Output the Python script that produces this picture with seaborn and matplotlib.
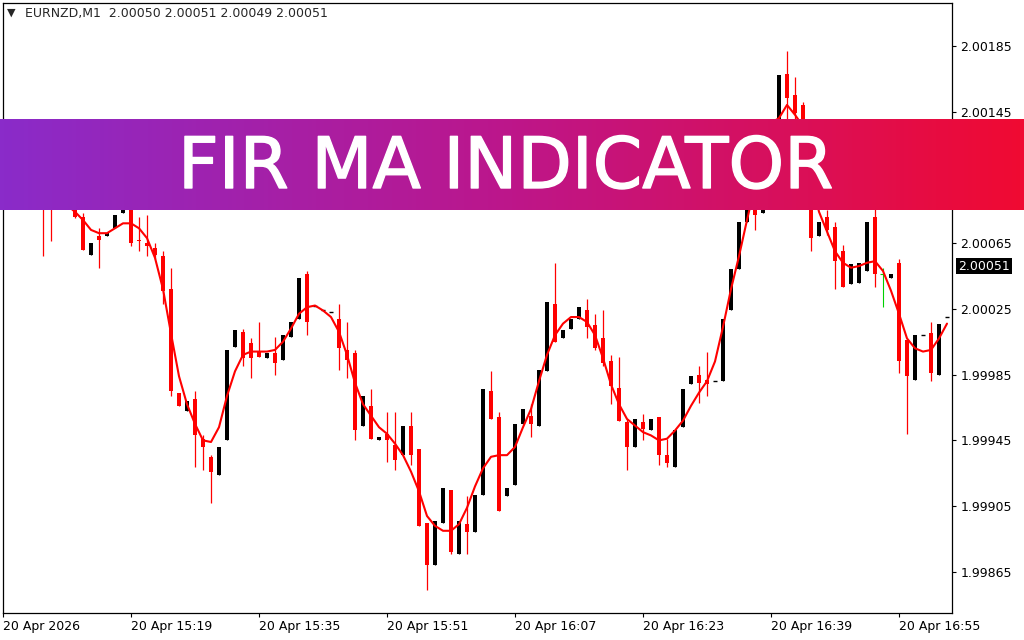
import numpy as np
import pandas as pd
import matplotlib
matplotlib.use("Agg")
import matplotlib.pyplot as plt
import matplotlib.patheffects as pe
import seaborn as sns
from matplotlib.colors import LinearSegmentedColormap

# ── EURNZD M1 bars ───────────────────────────────────────────────────────
opens = [2.00110, 2.00114, 2.00108, 2.00103, 2.00110, 2.00100, 2.00098, 2.00090, 2.00098, 2.00091,
         2.00081, 2.00058, 2.00069, 2.00069, 2.00074, 2.00083, 2.00093, 2.00067, 2.00065, 2.00062,
         2.00057, 2.00037, 1.99974, 1.99963, 1.99970, 1.99946, 1.99935, 1.99924, 1.99945, 2.00002,
         2.00011, 2.00004, 1.99999, 1.99995, 1.99998, 1.99994, 2.00008, 2.00019, 2.00046, 2.00027,
         2.00024, 2.00023, 2.00019, 2.00000, 1.99998, 1.99954, 1.99966, 1.99945, 1.99949, 1.99942,
         1.99936, 1.99954, 1.99940, 1.99895, 1.99869, 1.99895, 1.99915, 1.99876, 1.99894, 1.99889,
         1.99912, 1.99975, 1.99959, 1.99911, 1.99918, 1.99955, 1.99960, 1.99954, 1.99987, 2.00028,
         2.00007, 2.00013, 2.00019, 2.00024, 2.00015, 2.00007, 1.99993, 1.99977, 1.99956, 1.99941,
         1.99956, 1.99951, 1.99959, 1.99936, 1.99929, 1.99953, 1.99979, 1.99985, 1.99982, 1.99981,
         1.99981, 2.00024, 2.00049, 2.00078, 2.00094, 2.00083, 2.00105, 2.00125, 2.00168, 2.00155,
         2.00149, 2.00100, 2.00069, 2.00081, 2.00075, 2.00060, 2.00040, 2.00041, 2.00048, 2.00081,
         2.00046, 2.00044, 2.00053, 2.00006, 1.99982, 2.00009, 2.00010, 1.99985, 2.00020]
highs = [2.00118, 2.00120, 2.00113, 2.00112, 2.00116, 2.00106, 2.00102, 2.00098, 2.00100, 2.00093,
         2.00083, 2.00065, 2.00074, 2.00071, 2.00082, 2.00093, 2.00095, 2.00081, 2.00082, 2.00065,
         2.00060, 2.00050, 1.99974, 1.99969, 1.99975, 1.99948, 1.99936, 1.99941, 2.00000, 2.00012,
         2.00013, 2.00007, 2.00017, 1.99998, 2.00008, 2.00009, 2.00017, 2.00044, 2.00048, 2.00027,
         2.00024, 2.00023, 2.00028, 2.00017, 2.00000, 1.99972, 1.99976, 1.99947, 1.99962, 1.99962,
         1.99954, 1.99962, 1.99940, 1.99895, 1.99896, 1.99916, 1.99915, 1.99896, 1.99911, 1.99912,
         1.99976, 1.99987, 1.99962, 1.99916, 1.99955, 1.99964, 1.99967, 1.99988, 2.00029, 2.00053,
         2.00012, 2.00019, 2.00026, 2.00031, 2.00022, 2.00024, 1.99997, 1.99996, 1.99958, 1.99958,
         1.99961, 1.99958, 1.99959, 1.99946, 1.99951, 1.99976, 1.99984, 1.99990, 1.99999, 1.99981,
         2.00019, 2.00049, 2.00078, 2.00096, 2.00098, 2.00105, 2.00130, 2.00167, 2.00182, 2.00166,
         2.00151, 2.00105, 2.00078, 2.00085, 2.00078, 2.00064, 2.00052, 2.00053, 2.00078, 2.00090,
         2.00050, 2.00046, 2.00055, 2.00006, 2.00009, 2.00009, 2.00017, 2.00016, 2.00020]
lows = [2.00104, 2.00106, 2.00100, 2.00098, 2.00096, 2.00057, 2.00066, 2.00090, 2.00088, 2.00080,
        2.00061, 2.00058, 2.00050, 2.00069, 2.00074, 2.00083, 2.00063, 2.00060, 2.00057, 2.00055,
        2.00028, 1.99972, 1.99966, 1.99963, 1.99929, 1.99927, 1.99907, 1.99924, 1.99945, 2.00002,
        1.99990, 1.99983, 1.99996, 1.99995, 1.99985, 1.99994, 2.00008, 2.00019, 2.00009, 2.00027,
        2.00024, 2.00023, 1.99988, 1.99983, 1.99945, 1.99954, 1.99946, 1.99945, 1.99932, 1.99927,
        1.99936, 1.99930, 1.99893, 1.99854, 1.99869, 1.99895, 1.99876, 1.99876, 1.99876, 1.99889,
        1.99912, 1.99958, 1.99902, 1.99911, 1.99918, 1.99955, 1.99947, 1.99954, 1.99987, 2.00005,
        2.00007, 2.00013, 2.00019, 2.00007, 2.00000, 1.99990, 1.99967, 1.99957, 1.99927, 1.99941,
        1.99945, 1.99951, 1.99930, 1.99929, 1.99929, 1.99953, 1.99979, 1.99968, 1.99972, 1.99981,
        1.99981, 2.00024, 2.00049, 2.00078, 2.00073, 2.00083, 2.00105, 2.00125, 2.00135, 2.00130,
        2.00110, 2.00060, 2.00069, 2.00070, 2.00037, 2.00038, 2.00040, 2.00041, 2.00048, 2.00038,
        2.00026, 2.00044, 1.99986, 1.99949, 1.99982, 2.00009, 1.99981, 1.99985, 2.00020]
closes = [2.00114, 2.00108, 2.00103, 2.00110, 2.00100, 2.00094, 2.00090, 2.00098, 2.00091, 2.00081,
          2.00061, 2.00065, 2.00067, 2.00071, 2.00082, 2.00093, 2.00065, 2.00066, 2.00063, 2.00058,
          2.00036, 1.99975, 1.99966, 1.99969, 1.99948, 1.99941, 1.99926, 1.99941, 2.00000, 2.00012,
          1.99995, 1.99995, 1.99996, 1.99998, 1.99992, 2.00009, 2.00017, 2.00044, 2.00017, 2.00027,
          2.00024, 2.00023, 2.00001, 1.99994, 1.99951, 1.99972, 1.99946, 1.99947, 1.99945, 1.99933,
          1.99954, 1.99936, 1.99893, 1.99869, 1.99896, 1.99916, 1.99877, 1.99896, 1.99889, 1.99912,
          1.99976, 1.99958, 1.99902, 1.99916, 1.99955, 1.99964, 1.99955, 1.99988, 2.00029, 2.00005,
          2.00012, 2.00019, 2.00026, 2.00014, 2.00001, 1.99992, 1.99978, 1.99957, 1.99941, 1.99958,
          1.99952, 1.99958, 1.99936, 1.99931, 1.99951, 1.99976, 1.99984, 1.99980, 1.99979, 1.99981,
          2.00019, 2.00049, 2.00078, 2.00096, 2.00082, 2.00105, 2.00130, 2.00167, 2.00153, 2.00144,
          2.00115, 2.00068, 2.00078, 2.00073, 2.00054, 2.00038, 2.00052, 2.00053, 2.00078, 2.00046,
          2.00046, 2.00046, 1.99993, 1.99984, 2.00009, 2.00009, 1.99986, 2.00016, 2.00020]

# FIR MA line (red), one value per bar
fir_ma = [2.00106, 2.00105, 2.00104, 2.00102, 2.00100, 2.00098, 2.00095, 2.00092, 2.00088, 2.00084,
          2.00079, 2.00073, 2.00071, 2.00071, 2.00074, 2.00077, 2.00077, 2.00074, 2.00068, 2.00056,
          2.00037, 2.00010, 1.99984, 1.99967, 1.99955, 1.99945, 1.99944, 1.99953, 1.99972, 1.99987,
          1.99997, 1.99999, 1.99999, 1.99999, 2.00000, 2.00005, 2.00013, 2.00022, 2.00026, 2.00027,
          2.00024, 2.00020, 2.00011, 1.99997, 1.99980, 1.99967, 1.99960, 1.99953, 1.99949, 1.99943,
          1.99936, 1.99926, 1.99914, 1.99899, 1.99893, 1.99890, 1.99890, 1.99894, 1.99904, 1.99917,
          1.99928, 1.99935, 1.99936, 1.99936, 1.99941, 1.99953, 1.99964, 1.99981, 1.99997, 2.00009,
          2.00016, 2.00020, 2.00020, 2.00017, 2.00009, 1.99995, 1.99979, 1.99967, 1.99958, 1.99954,
          1.99950, 1.99948, 1.99945, 1.99946, 1.99951, 1.99957, 1.99966, 1.99974, 1.99981, 1.99993,
          2.00014, 2.00037, 2.00057, 2.00079, 2.00100, 2.00120, 2.00138, 2.00141, 2.00149, 2.00143,
          2.00136, 2.00105, 2.00084, 2.00072, 2.00060, 2.00053, 2.00050, 2.00051, 2.00053, 2.00054,
          2.00048, 2.00036, 2.00022, 2.00007, 2.00001, 1.99999, 2.00000, 2.00007, 2.00016]

time_labels = ["20 Apr 2026", "20 Apr 15:19", "20 Apr 15:35", "20 Apr 15:51",
               "20 Apr 16:07", "20 Apr 16:23", "20 Apr 16:39", "20 Apr 16:55"]
price_ticks = [1.99865, 1.99905, 1.99945, 1.99985, 2.00025, 2.00065, 2.00105, 2.00145, 2.00185]
last_price = 2.00051
header = "EURNZD,M1  2.00050 2.00051 2.00049 2.00051"
banner_title = "FIR MA INDICATOR"

df = pd.DataFrame({'open': opens, 'high': highs, 'low': lows,
                   'close': closes, 'fir_ma': fir_ma})
df['bar'] = np.arange(len(df))

sns.set_style("white")
plt.rcParams['font.family'] = ['DejaVu Sans']

W, H = 1024, 640
fig = plt.figure(figsize=(W / 100, H / 100), dpi=100)
fig.patch.set_facecolor('white')

# ── Price chart ───────────────────────────────────────────────────────────
ax = fig.add_axes([3 / W, 1 - 613 / H, 949 / W, 610 / H])
ax.set_facecolor('white')

down = df[df.close < df.open]
up = df[df.close > df.open]
flat = df[(df.close == df.open) & (df.high == df.low)]
tick_bar = df[(df.close == df.open) & (df.high > df.low)]

ax.vlines(down.bar, down.low, down.high, color='#ff0000', lw=0.9, zorder=2)
ax.bar(down.bar, down.open - down.close, bottom=down.close, width=0.62,
       color='#ff0000', lw=0, zorder=2)
ax.vlines(up.bar, up.low, up.high, color='black', lw=0.9, zorder=2)
ax.bar(up.bar, up.close - up.open, bottom=up.open, width=0.4,
       color='black', lw=0, zorder=2)
ax.hlines(flat.close, flat.bar - 0.3, flat.bar + 0.3, color='black', lw=1.0, zorder=2)
ax.vlines(tick_bar.bar, tick_bar.low, tick_bar.high, color='#00d000', lw=0.8, zorder=2)
ax.hlines(tick_bar.open, tick_bar.bar - 0.4, tick_bar.bar, color='#00d000', lw=0.8, zorder=2)

sns.lineplot(data=df, x='bar', y='fir_ma', color='#ff0000', linewidth=1.5,
             ax=ax, zorder=3)

ax.set_xlim(0, 949 / 8)
ax.set_ylim(1.99840, 2.00211)
ax.set_xlabel('')
ax.set_ylabel('')

ax.yaxis.tick_right()
ax.set_yticks(price_ticks)
ax.set_yticklabels([f"{p:.5f}" for p in price_ticks])
ax.set_xticks(np.arange(0, len(df), 16))
ax.set_xticklabels(time_labels, ha='left')
ax.tick_params(axis='y', direction='out', length=3, width=0.8, pad=3,
               labelsize=9, colors='black', right=True, left=False)
ax.tick_params(axis='x', direction='out', length=3, width=0.8, pad=2,
               labelsize=9, colors='black', bottom=True)
for sp in ax.spines.values():
    sp.set_visible(True)
    sp.set_color('black')
    sp.set_linewidth(0.9)

# current price box on the right scale
ax.annotate(f"{last_price:.5f}", xy=(1, last_price), xycoords=('axes fraction', 'data'),
            xytext=(6, 0), textcoords='offset pixels', ha='left', va='center',
            color='white', fontsize=9,
            bbox=dict(boxstyle='square,pad=0.15', fc='black', ec='none'))

# header line
fig.text(7 / W, 1 - 13 / H, "\u25bc", fontsize=8, va='center', ha='left')
fig.text(25 / W, 1 - 14 / H, header, fontsize=9, va='center', ha='left')

# ── Banner ────────────────────────────────────────────────────────────────
bax = fig.add_axes([0, 1 - 210 / H, 1, 91 / H])
cmap = LinearSegmentedColormap.from_list('banner', ['#8a2bc9', '#bd168a', '#f00a32'])
bax.imshow(np.linspace(0, 1, 512).reshape(1, -1), aspect='auto', cmap=cmap,
           extent=(0, 1, 0, 1))
bax.set_xlim(0, 1)
bax.set_ylim(0, 1)
bax.set_axis_off()
bax.text(506 / W, 22 / 91, banner_title, color='white', fontsize=51,
         ha='center', va='baseline', transform=bax.transAxes,
         path_effects=[pe.withStroke(linewidth=1.0, foreground='white')])

fig.savefig("out.png", dpi=100)
